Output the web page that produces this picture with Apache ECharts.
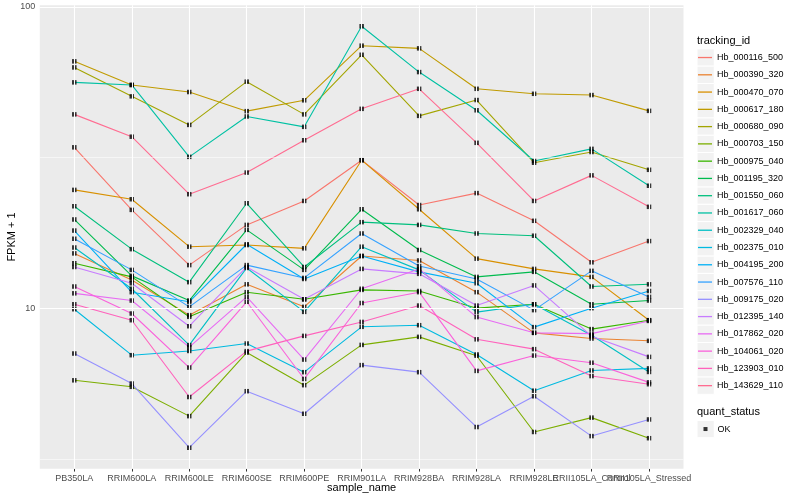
<!DOCTYPE html>
<html><head><meta charset="utf-8">
<script src="https://cdn.jsdelivr.net/npm/echarts@6/dist/echarts.min.js"></script>
<style>html,body{margin:0;padding:0;background:#fff}#c{width:800px;height:500px}</style>
</head><body><div id="c"></div>
<script>
// ---- data ----
const categories = ['PB350LA','RRIM600LA','RRIM600LE','RRIM600SE','RRIM600PE','RRIM901LA','RRIM928BA','RRIM928LA','RRIM928LE','RRII105LA_Control','RRII105LA_Stressed'];
const seriesNames = ['Hb_000116_500','Hb_000390_320','Hb_000470_070','Hb_000617_180','Hb_000680_090','Hb_000703_150','Hb_000975_040','Hb_001195_320','Hb_001550_060','Hb_001617_060','Hb_002329_040','Hb_002375_010','Hb_004195_200','Hb_007576_110','Hb_009175_020','Hb_012395_140','Hb_017862_020','Hb_104061_020','Hb_123903_010','Hb_143629_110'];
const seriesColors = ['#F8766D','#EA8331','#D89000','#C09B00','#A3A500','#7CAE00','#39B600','#00BB4E','#00BF7D','#00C1A3','#00BFC4','#00BAE0','#00B0F6','#35A2FF','#9590FF','#C77CFF','#E76BF3','#FA62DB','#FF62BC','#FF6C91'];

const hb_000116_500 = [34.2, 21.2, 13.9, 18.9, 22.7, 31.0, 22.0, 24.1, 19.5, 14.2, 16.7];
const hb_000390_320 = [15.2, 12.4, 9.48, 12.0, 10.1, 14.9, 14.4, 11.3, 8.28, 7.93, 7.79];
const hb_000470_070 = [24.7, 23.0, 16.0, 16.2, 15.8, 31.0, 21.3, 14.6, 13.5, 12.7, 9.12];
const hb_000617_180 = [66.0, 55.1, 52.2, 45.1, 49.0, 74.4, 72.9, 53.5, 51.5, 51.0, 45.2];
const hb_000680_090 = [63.0, 50.5, 40.6, 56.5, 44.0, 69.4, 43.5, 49.1, 30.4, 33.0, 28.8];
const hb_000703_150 = [5.76, 5.48, 4.38, 7.12, 5.55, 7.55, 8.03, 6.95, 3.88, 4.33, 3.70];
const hb_000975_040 = [14.1, 12.7, 9.36, 11.3, 10.7, 11.5, 11.4, 10.0, 10.3, 8.52, 9.12];
const hb_001195_320 = [19.7, 12.8, 10.6, 18.2, 13.4, 21.3, 15.6, 12.7, 13.2, 10.3, 10.6];
const hb_001550_060 = [21.8, 15.7, 12.2, 22.3, 13.7, 19.3, 18.9, 17.7, 17.4, 11.8, 12.0];
const hb_001617_060 = [56.2, 55.1, 31.8, 43.3, 40.0, 86.3, 60.8, 45.4, 30.8, 33.8, 25.5];
const hb_002329_040 = [15.9, 11.6, 7.54, 13.6, 9.72, 16.0, 13.4, 9.70, 10.3, 8.13, 6.14];
const hb_002375_010 = [9.92, 6.98, 7.21, 7.63, 6.13, 8.67, 8.78, 7.02, 5.32, 6.21, 6.31];
const hb_004195_200 = [18.1, 11.3, 10.5, 16.3, 12.5, 14.9, 13.2, 12.1, 8.65, 10.0, 11.4];
const hb_007576_110 = [17.0, 13.4, 10.1, 13.9, 12.6, 17.7, 13.8, 12.5, 9.85, 13.3, 10.9];
const hb_009175_020 = [7.07, 5.62, 3.44, 5.30, 4.46, 6.47, 6.13, 4.03, 5.10, 3.76, 4.27];
const hb_012395_140 = [13.7, 12.1, 8.71, 13.7, 10.7, 13.5, 13.0, 10.2, 11.9, 8.07, 6.89];
const hb_017862_020 = [11.2, 10.6, 7.42, 10.9, 6.75, 11.6, 13.5, 9.34, 8.28, 8.23, 9.07];
const hb_104061_020 = [11.8, 9.60, 6.35, 10.5, 5.82, 10.4, 11.3, 6.19, 6.96, 6.59, 5.67];
const hb_123903_010 = [10.3, 9.12, 5.07, 7.20, 8.09, 9.00, 10.2, 7.88, 7.31, 5.95, 5.59];
const hb_143629_110 = [44.0, 37.1, 23.9, 28.2, 36.1, 45.9, 53.5, 35.4, 22.7, 27.6, 21.7];

const yTickLabels = [10, 100];
const quantStatus = 'OK';

// ---- build ----
const values = [hb_000116_500, hb_000390_320, hb_000470_070, hb_000617_180, hb_000680_090, hb_000703_150, hb_000975_040, hb_001195_320, hb_001550_060, hb_001617_060, hb_002329_040, hb_002375_010, hb_004195_200, hb_007576_110, hb_009175_020, hb_012395_140, hb_017862_020, hb_104061_020, hb_123903_010, hb_143629_110];
const FONT = '"Liberation Sans", Arial, Helvetica, sans-serif';
const allVals = values.flat();
const lmin = Math.log10(Math.min(...allVals)), lmax = Math.log10(Math.max(...allVals));
const pad = (lmax - lmin) * 0.05;
const yMin = Math.pow(10, lmin - pad), yMax = Math.pow(10, lmax + pad);
const yMinor = [yTickLabels[0] / Math.sqrt(10), Math.sqrt(yTickLabels[0] * yTickLabels[1])];
const xIdx = categories.map((c, i) => i);
const xMin = -0.6, xMax = categories.length - 1 + 0.6;
// an extra blank label at the right edge absorbs ECharts' min/max overlap check
const xLabelVals = xIdx.concat([xMax]);

const gridLines = [];
yTickLabels.forEach(v => gridLines.push({ yAxis: v, lineStyle: { color: '#fff', width: 1.1, type: 'solid' } }));
yMinor.forEach(v => gridLines.push({ yAxis: v, lineStyle: { color: '#fff', width: 0.55, type: 'solid' } }));
xIdx.forEach(i => gridLines.push({ xAxis: i, lineStyle: { color: '#fff', width: 1.1, type: 'solid' } }));

const series = [{
  type: 'line', name: '_grid', data: [], z: 1, silent: true, animation: false,
  markLine: { silent: true, symbol: ['none', 'none'], label: { show: false }, animation: false, data: gridLines }
}];
seriesNames.forEach((n, k) => {
  series.push({
    type: 'line', name: n, data: values[k].map((v, i) => [i, v]),
    showSymbol: false, symbol: 'none', z: 2, animation: false,
    itemStyle: { color: seriesColors[k] },
    lineStyle: { color: seriesColors[k], width: 1.1 }
  });
});
const pts = [];
values.forEach(arr => arr.forEach((v, i) => pts.push([i, v])));
series.push({
  type: 'scatter', name: quantStatus, data: pts, symbol: 'rect', symbolSize: 4.5,
  itemStyle: { color: '#000', borderWidth: 0 }, z: 3, animation: false
});

const keyH = 17.27, keyTop = 48.9, okTop = 420.4;
const graphics = seriesNames.map((n, i) => ({
  type: 'rect', shape: { x: 697, y: keyTop + i * keyH, width: 17.27, height: keyH },
  style: { fill: '#F2F2F2', stroke: '#fff', lineWidth: 1 }, z: -1
}));
graphics.push({ type: 'rect', shape: { x: 697, y: okTop, width: 17.27, height: keyH },
  style: { fill: '#F2F2F2', stroke: '#fff', lineWidth: 1 }, z: -1 });

const chart = echarts.init(document.getElementById('c'), null, { renderer: 'canvas' });
chart.setOption({
  animation: false,
  backgroundColor: '#fff',
  textStyle: { fontFamily: FONT },
  grid: { left: 39.8, right: 116.5, top: 5.2, bottom: 31.2, show: true, backgroundColor: '#EBEBEB', borderWidth: 0,
    containLabel: false, outerBoundsMode: 'none' },
  xAxis: {
    type: 'value', min: xMin, max: xMax,
    name: 'sample_name', nameLocation: 'middle', nameGap: 13.5, nameMoveOverlap: false,
    nameTextStyle: { fontSize: 11, color: '#000', fontFamily: FONT },
    axisLine: { show: false },
    axisTick: { show: true, length: 2.75, lineStyle: { color: '#333333', width: 1 }, customValues: xIdx },
    axisLabel: { show: true, customValues: xLabelVals, margin: 5.5, fontSize: 9, color: '#4D4D4D', fontFamily: FONT,
      hideOverlap: false,
      formatter: v => (Number.isInteger(v) && categories[v] !== undefined) ? categories[v] : ' ' },
    splitLine: { show: false }
  },
  yAxis: {
    type: 'log', min: yMin, max: yMax, logBase: 10,
    name: 'FPKM + 1', nameLocation: 'middle', nameGap: 22, nameRotate: 90, nameMoveOverlap: false,
    nameTextStyle: { fontSize: 11, color: '#000', fontFamily: FONT },
    axisLine: { show: false },
    axisTick: { show: true, length: 2.75, lineStyle: { color: '#333333', width: 1 }, customValues: yTickLabels },
    axisLabel: { show: true, customValues: yTickLabels, margin: 4.5, fontSize: 9, color: '#4D4D4D', fontFamily: FONT,
      hideOverlap: false,
      formatter: v => { const r = yTickLabels.find(t => Math.abs(t - v) / t < 1e-6); return r ? String(r) : ''; } },
    splitLine: { show: false }
  },
  title: [
    { text: 'tracking_id', left: 697, top: 35, padding: 0, textStyle: { fontSize: 11, fontWeight: 'normal', color: '#000', fontFamily: FONT } },
    { text: 'quant_status', left: 697, top: 406.6, padding: 0, textStyle: { fontSize: 11, fontWeight: 'normal', color: '#000', fontFamily: FONT } }
  ],
  legend: [{
    data: seriesNames, orient: 'vertical', left: 698, top: keyTop, padding: 0, itemGap: 0,
    itemWidth: 14, itemHeight: 1.3, icon: 'rect', selectedMode: false,
    textStyle: { fontSize: 9, color: '#000', lineHeight: keyH, fontFamily: FONT }
  }, {
    data: [quantStatus], orient: 'vertical', left: 703.5, top: okTop, padding: 0, itemGap: 0,
    itemWidth: 4, itemHeight: 4, icon: 'rect', selectedMode: false,
    itemStyle: { color: '#000' },
    textStyle: { fontSize: 9, color: '#000', lineHeight: keyH, fontFamily: FONT, padding: [0, 0, 0, 5] }
  }],
  graphic: graphics,
  series: series
});
</script></body></html>
